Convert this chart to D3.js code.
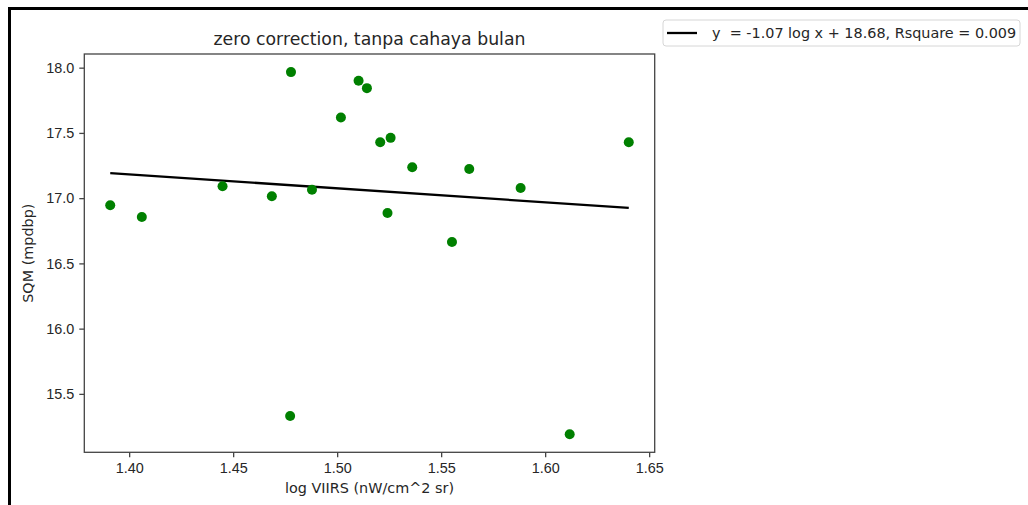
<!DOCTYPE html>
<html>
<head>
<meta charset="utf-8">
<script src="https://cdn.jsdelivr.net/npm/d3@7"></script>
<style>
  body { margin: 0; background: #fff; }
  svg { display: block; font-family: "DejaVu Sans", sans-serif; }
  .axis text { font-size: 14.4px; fill: #262626; }
  .axis path, .axis line { stroke: #444; stroke-width: 1.3; }
</style>
</head>
<body>
<script>
// log VIIRS vs SQM
var logViirs = [1.3909, 1.4061, 1.4449, 1.4686, 1.4778, 1.4774, 1.4879, 1.5018, 1.5103, 1.5143,
                1.5207, 1.5242, 1.5257, 1.5361, 1.5552, 1.5635, 1.5882, 1.6118, 1.6402];
var sqm = [16.945, 16.856, 17.091, 17.014, 17.966, 15.33, 17.065, 17.618, 17.90, 17.843,
           17.429, 16.886, 17.462, 17.237, 16.664, 17.224, 17.078, 15.191, 17.429];

// fitted line end points
var fitX = [1.3909, 1.6402];
var fitY = [17.192, 16.925];

var xTicks = [1.40, 1.45, 1.50, 1.55, 1.60, 1.65];
var yTicks = [15.5, 16.0, 16.5, 17.0, 17.5, 18.0];

var titleText = "zero correction, tanpa cahaya bulan";
var xLabel = "log VIIRS (nW/cm^2 sr)";
var yLabel = "SQM (mpdbp)";
var legendText = "y  = -1.07 log x + 18.68, Rsquare = 0.009";

var W = 1028, H = 505;
var plot = {left: 84.3, right: 654.7, top: 54, bottom: 452.3};

// matplotlib style 5% margins
function padded(vals) {
  var e = d3.extent(vals), p = (e[1] - e[0]) * 0.05;
  return [e[0] - p, e[1] + p];
}

var x = d3.scaleLinear().domain(padded(logViirs)).range([plot.left, plot.right]);
var y = d3.scaleLinear().domain(padded(sqm)).range([plot.bottom, plot.top]);

var svg = d3.select("body").append("svg")
  .attr("width", W)
  .attr("height", H);

svg.append("rect").attr("width", W).attr("height", H).attr("fill", "#fff");

// outer frame of the screenshot
svg.append("rect")
  .attr("x", 9.5).attr("y", 8.5)
  .attr("width", W + 20).attr("height", H + 20)
  .attr("fill", "none")
  .attr("stroke", "#000")
  .attr("stroke-width", 3);

// axes
var xAxis = d3.axisBottom(x).tickValues(xTicks).tickFormat(d3.format(".2f"))
  .tickSize(5).tickPadding(5).tickSizeOuter(0);
var yAxis = d3.axisLeft(y).tickValues(yTicks).tickFormat(d3.format(".1f"))
  .tickSize(5).tickPadding(5).tickSizeOuter(0);

svg.append("g")
  .attr("class", "axis")
  .attr("transform", "translate(0," + plot.bottom + ")")
  .call(xAxis)
  .call(function(g) { g.select(".domain").remove(); });

svg.append("g")
  .attr("class", "axis")
  .attr("transform", "translate(" + plot.left + ",0)")
  .call(yAxis)
  .call(function(g) { g.select(".domain").remove(); });

// spines
svg.append("rect")
  .attr("x", plot.left).attr("y", plot.top)
  .attr("width", plot.right - plot.left)
  .attr("height", plot.bottom - plot.top)
  .attr("fill", "none")
  .attr("stroke", "#444")
  .attr("stroke-width", 1.3);

// fit line
var line = d3.line()
  .x(function(d) { return x(d[0]); })
  .y(function(d) { return y(d[1]); });

svg.append("path")
  .datum(d3.zip(fitX, fitY))
  .attr("d", line)
  .attr("fill", "none")
  .attr("stroke", "#000")
  .attr("stroke-width", 2.3);

// points
svg.append("g")
  .selectAll("circle")
  .data(d3.zip(logViirs, sqm))
  .join("circle")
    .attr("cx", function(d) { return x(d[0]); })
    .attr("cy", function(d) { return y(d[1]); })
    .attr("r", 5)
    .attr("fill", "#008000");

// labels
svg.append("text")
  .attr("x", (plot.left + plot.right) / 2)
  .attr("y", 45)
  .attr("text-anchor", "middle")
  .attr("font-size", "17.3px")
  .attr("fill", "#262626")
  .text(titleText);

svg.append("text")
  .attr("x", (plot.left + plot.right) / 2)
  .attr("y", 492.5)
  .attr("text-anchor", "middle")
  .attr("font-size", "14.4px")
  .attr("fill", "#262626")
  .text(xLabel);

svg.append("text")
  .attr("transform", "translate(28," + (plot.top + plot.bottom) / 2 + ") rotate(-90)")
  .attr("text-anchor", "middle")
  .attr("dy", "0.35em")
  .attr("font-size", "14.4px")
  .attr("fill", "#262626")
  .text(yLabel);

// legend
var legend = svg.append("g").attr("transform", "translate(663,20)");

legend.append("rect")
  .attr("width", 357).attr("height", 26)
  .attr("rx", 3)
  .attr("fill", "#fff")
  .attr("stroke", "#d6d6d6")
  .attr("stroke-width", 1);

legend.append("line")
  .attr("x1", 4).attr("x2", 34)
  .attr("y1", 13).attr("y2", 13)
  .attr("stroke", "#000")
  .attr("stroke-width", 2.3);

legend.append("text")
  .attr("x", 49).attr("y", 13)
  .attr("dy", "0.35em")
  .attr("font-size", "14.4px")
  .attr("fill", "#262626")
  .attr("xml:space", "preserve")
  .style("white-space", "pre")
  .text(legendText);
</script>
</body>
</html>
